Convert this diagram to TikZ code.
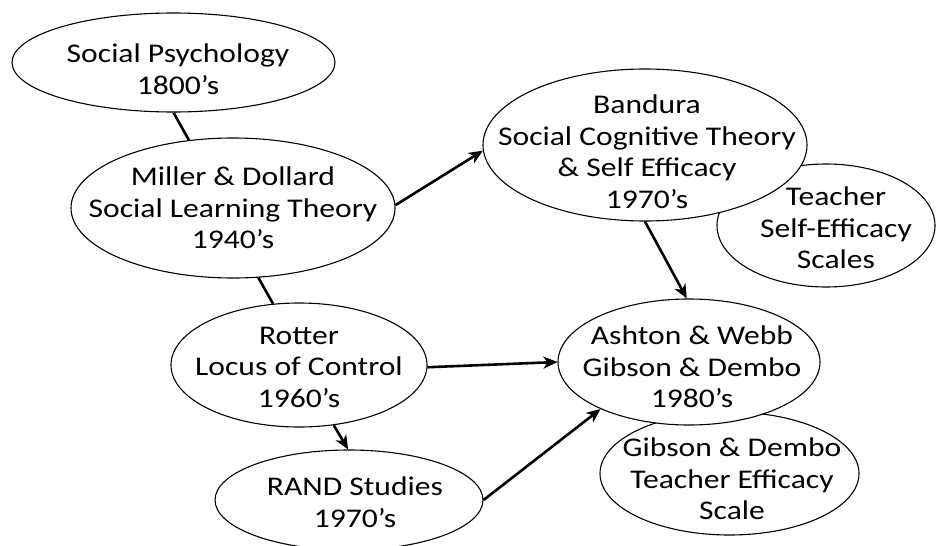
\documentclass[tikz,border=0pt]{standalone}
\usepackage{fontspec}
\setmainfont{Carlito}[FakeStretch=1.17]
\usetikzlibrary{arrows.meta,shapes.geometric}

\tikzset{
  bubble/.style={ellipse, draw=black, line width=1.1pt, fill=white, inner sep=0pt},
  caption/.style={align=center, inner sep=0pt, text=black,
                  font=\fontsize{27}{31.5}\selectfont},
  link/.style={line width=2.6pt, draw=black},
  flow/.style={link, -{Stealth[length=14pt,width=12pt,inset=4pt]}},
}

\begin{document}
\begin{tikzpicture}[x=1pt,y=-1pt]
\useasboundingbox (0,0) rectangle (937,546);
\clip (0,0) rectangle (937,546);

% ellipses (back ones first so the front ones cover them)
\node[bubble, minimum width=323pt, minimum height=99pt]  (sp)   at (173.5,62.5) {};
\node[bubble, minimum width=324pt, minimum height=140pt] (md)   at (233,208) {};
\node[bubble, minimum width=218pt, minimum height=123pt] (tse)  at (826,225.5) {};
\node[bubble, minimum width=324pt, minimum height=152pt] (ban)  at (645,145) {};
\node[bubble, minimum width=256pt, minimum height=124pt] (rot)  at (299,365) {};
\node[bubble, minimum width=259pt, minimum height=123pt] (tes)  at (729.5,473.5) {};
\node[bubble, minimum width=262pt, minimum height=126pt] (ash)  at (689,362) {};
\node[bubble, minimum width=268pt, minimum height=100pt] (rand) at (349,500) {};

% texts
\node[caption] (spT)   at (178,69)    {Social Psychology\\1800's};
\node[caption] (mdT)   at (233,208)   {Miller \& Dollard\\Social Learning Theory\\1940's};
\node[caption] (tseT)  at (836,228)   {Teacher\\Self-Efficacy\\Scales};
\node[caption] (banT)  at (647,151.5) {Bandura\\Social Cognitive Theory\\\& Self Efficacy\\1970's};
\node[caption] (rotT)  at (299,367)   {Rotter\\Locus of Control\\1960's};
\node[caption] (tesT)  at (732,479)   {Gibson \& Dembo\\Teacher Efficacy\\Scale};
\node[caption] (ashT)  at (692,367)   {Ashton \& Webb\\Gibson \& Dembo\\1980's};
\node[caption] (randT) at (355,502)   {RAND Studies\\1970's};

% connectors
\draw[link] (sp.south) -- (md.123.5);
\draw[link] (md.-70) -- (rot.113);
\draw[flow] (md.1) -- (ban.182);
\draw[flow] (ban.south) -- (ash.92);
\draw[flow] (rot.-1) -- (ash.180);
\draw[flow] (rot.-60) -- (rand.91);
\draw[flow] (rand.east) -- (ash.208);
\end{tikzpicture}
\end{document}
